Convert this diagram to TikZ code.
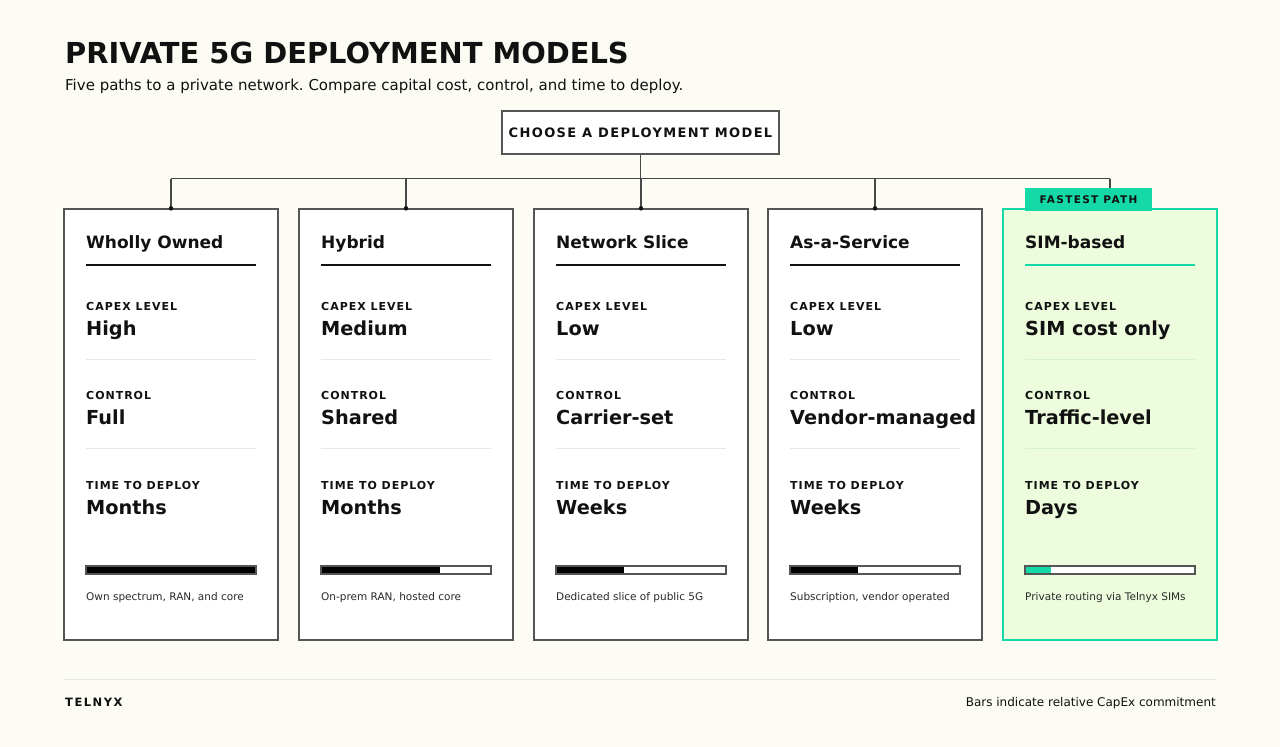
\documentclass[tikz,border=0pt]{standalone}
\usepackage{fontspec}
\setmainfont{DejaVu Sans}
\newfontfamily\tracked[LetterSpace=9]{DejaVu Sans}
\newfontfamily\trackedroot[LetterSpace=10.5]{DejaVu Sans}
\newfontfamily\trackedwide[LetterSpace=13]{DejaVu Sans}
\usepackage{xcolor}
\usetikzlibrary{positioning,calc}
\frenchspacing

\definecolor{paper}{HTML}{FCFCF4}
\definecolor{ink}{HTML}{111111}
\definecolor{edge}{HTML}{555555}
\definecolor{hair}{HTML}{E8E8E4}
\definecolor{teal}{HTML}{14D9A6}
\definecolor{mint}{HTML}{EDFCDC}
\definecolor{minthair}{HTML}{D6F3C8}

\tikzset{
  card/.style={draw=edge, line width=1.4pt, fill=white, minimum width=214pt,
    minimum height=431pt, inner sep=0pt},
  hotcard/.style={card, draw=teal, fill=mint},
  wire/.style={draw=edge!85!black, line width=1.3pt},
  heading/.style={anchor=base west, inner sep=0pt, text=ink,
    font=\fontsize{17}{20}\selectfont\bfseries},
  label/.style={anchor=base west, inner sep=0pt, text=ink,
    font=\fontsize{11}{13}\selectfont\tracked\bfseries},
  value/.style={anchor=base west, inner sep=0pt, text=ink,
    font=\fontsize{19.3}{22}\selectfont\bfseries},
  note/.style={anchor=base west, inner sep=0pt, text=ink!90,
    font=\fontsize{10.5}{13}\selectfont}
}

\begin{document}
\begin{tikzpicture}[x=1pt,y=-1pt]
  \useasboundingbox[fill=paper] (0,0) rectangle (1280,747);

  \node[anchor=base west, inner sep=0pt, text=ink,
    font=\fontsize{28.9}{32}\selectfont\bfseries] (title) at (65,63)
    {PRIVATE 5G DEPLOYMENT MODELS};
  \node[anchor=base west, inner sep=0pt, text=ink,
    font=\fontsize{15}{18}\selectfont] (subtitle) at (65,90)
    {Five paths to a private network. Compare capital cost, control, and time to deploy.};

  \node[draw=edge, line width=1.4pt, fill=white, minimum width=277pt,
    minimum height=43pt, inner sep=0pt, text=ink,
    font=\fontsize{13}{15}\selectfont\trackedroot\bfseries] (root) at (640.5,132.5)
    {CHOOSE A DEPLOYMENT MODEL};

  \foreach \i/\cx/\ttl/\capx/\ctl/\tim/\memo/\share in {
    1/171/Wholly Owned/High/Full/Months/{Own spectrum, RAN, and core}/1,
    2/406/Hybrid/Medium/Shared/Months/{On-prem RAN, hosted core}/0.7,
    3/641/Network Slice/Low/Carrier-set/Weeks/Dedicated slice of public 5G/0.4,
    4/875/As-a-Service/Low/Vendor-managed/Weeks/{Subscription, vendor operated}/0.4,
    5/1110/SIM-based/SIM cost only/Traffic-level/Days/Private routing via Telnyx SIMs/0.15} {
    \def\acc{ink}\def\boxsty{card}\def\sep{hair}\def\barc{black}
    \ifnum\i=5 \def\acc{teal}\def\boxsty{hotcard}\def\sep{minthair}\def\barc{teal}\fi
    \node[\boxsty] (c\i) at (\cx,424.5) {};
    \node[heading] (ttl\i) at (\cx-85,248) {\ttl};
    \draw[\acc, line width=1.4pt] (\cx-85,265) -- (\cx+85,265);
    \node[label] (capl\i) at (\cx-85,310) {CAPEX LEVEL};
    \node[value] (capv\i) at (\cx-85,335) {\capx};
    \draw[\sep, line width=1pt] (\cx-85,359) -- (\cx+85,359);
    \node[label] (ctll\i) at (\cx-85,399) {CONTROL};
    \node[value] (ctlv\i) at (\cx-85,424) {\ctl};
    \draw[\sep, line width=1pt] (\cx-85,448) -- (\cx+85,448);
    \node[label] (timl\i) at (\cx-85,489) {TIME TO DEPLOY};
    \node[value] (timv\i) at (\cx-85,514) {\tim};
    \fill[white] (\cx-85,566) rectangle (\cx+85,574);
    \fill[\barc] (\cx-85,566) rectangle ++(170*\share,8);
    \draw[edge, line width=1.1pt] (\cx-85,566) rectangle (\cx+85,574);
    \node[note] (memo\i) at (\cx-85,600) {\memo};
  }

  \node[fill=teal, minimum width=127pt, minimum height=23pt, inner sep=0pt,
    text=ink, font=\fontsize{10.5}{12}\selectfont\trackedwide\bfseries]
    (tag) at (1088.5,199.5) {FASTEST PATH};

  \coordinate (bus) at ($(root.south)+(0,24)$);
  \draw[wire] (root.south) -- (bus);
  \draw[wire] (c1.north |- bus) -- (c5.north |- bus);
  \foreach \i in {1,...,4} {
    \draw[wire] (c\i.north |- bus) -- (c\i.north);
    \filldraw[ink] (c\i.north) circle(2pt);
  }
  \draw[wire] (c5.north |- bus) -- (c5.north |- tag.north);

  \draw[hair, line width=1pt] (64,679) -- (1216,679);
  \node[anchor=base west, inner sep=0pt, text=ink,
    font=\fontsize{11.5}{13}\selectfont\trackedwide\bfseries] (brand) at (65,706) {TELNYX};
  \node[anchor=base east, inner sep=0pt, text=ink,
    font=\fontsize{12}{14}\selectfont] (legend) at (1216,706)
    {Bars indicate relative CapEx commitment};
\end{tikzpicture}
\end{document}
